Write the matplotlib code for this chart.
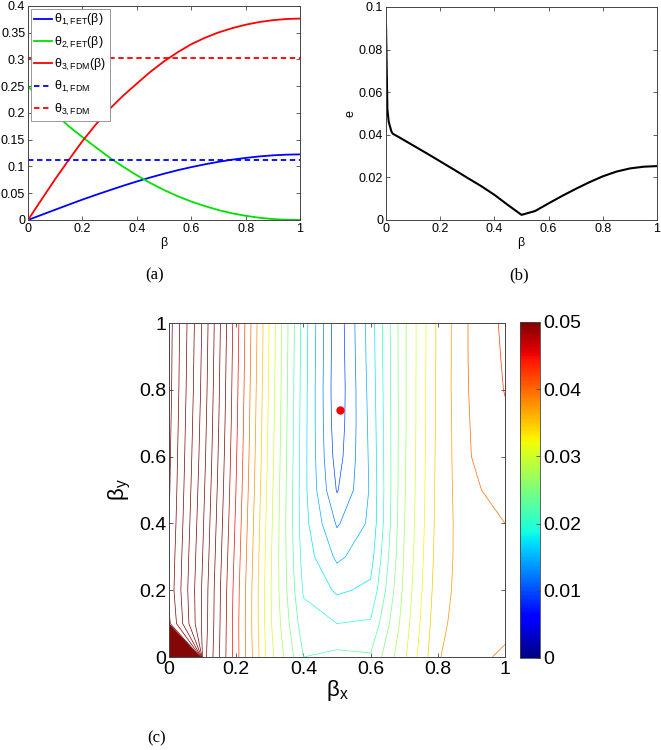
import numpy as np
import matplotlib
matplotlib.use("Agg")
import matplotlib.pyplot as plt

plt.rcParams["font.family"] = ["Liberation Sans", "DejaVu Sans"]
plt.rcParams["mathtext.fontset"] = "custom"
plt.rcParams["mathtext.rm"] = "Liberation Sans"
plt.rcParams["mathtext.it"] = "Liberation Sans"
plt.rcParams["mathtext.default"] = "regular"

# (a) angles vs beta
beta_a = [0, .05, .1, .15, .2, .25, .3, .35, .4, .45, .5, .55, .6, .65, .7,
          .75, .8, .85, .9, .95, 1]
theta1_fet = [0, 0.0096, 0.0192, 0.0287, 0.0381, 0.0470, 0.0556, 0.0640,
              0.0720, 0.0795, 0.0865, 0.0930, 0.0988, 0.1040, 0.1087, 0.1127,
              0.1160, 0.1188, 0.1208, 0.1221, 0.1226]
theta2_fet = [0.25, 0.2235, 0.1985, 0.1750, 0.1550, 0.1355, 0.1165, 0.0995,
              0.0835, 0.0690, 0.0560, 0.0445, 0.0345, 0.0260, 0.0185, 0.0125,
              0.0078, 0.0042, 0.0017, 0.0004, 0.0]
theta3_fdm_b = [0, 0.0385, 0.0765, 0.1125, 0.1475, 0.1790, 0.2075, 0.2325,
                0.2550, 0.2770, 0.2965, 0.3135, 0.3285, 0.3405, 0.3505,
                0.3585, 0.3650, 0.3700, 0.3735, 0.3757, 0.3765]
theta1_fdm = 0.112
theta3_fdm = 0.302

# (b) error vs beta
beta_b = [0, 0.005, 0.01, 0.02, 0.025, 0.05, 0.1, 0.15, 0.2, 0.25, 0.3, 0.35,
          0.4, 0.45, 0.5, 0.55, 0.6, 0.65, 0.7, 0.75, 0.8, 0.85, 0.9, 0.95, 1]
err_b = [0.091, 0.052, 0.046, 0.0415, 0.0405, 0.0387, 0.0350, 0.0313, 0.0275,
         0.0237, 0.0198, 0.0160, 0.0118, 0.0070, 0.0024, 0.0042, 0.0078,
         0.0113, 0.0146, 0.0177, 0.0205, 0.0227, 0.0242, 0.0250, 0.0253]

# (c) error over (beta_x, beta_y), rows = beta_y
beta_grid = [0, .1, .2, .3, .4, .5, .6, .7, .8, .9, 1]
err_c = [
    [0.2500, 0.0565, 0.0435, 0.0310, 0.0225, 0.0232, 0.0228, 0.0295, 0.0373, 0.0395, 0.0403],
    [0.0705, 0.0570, 0.0435, 0.0305, 0.0210, 0.0200, 0.0203, 0.0287, 0.0368, 0.0392, 0.0395],
    [0.0693, 0.0571, 0.0437, 0.0304, 0.0197, 0.0171, 0.0180, 0.0281, 0.0364, 0.0391, 0.0393],
    [0.0696, 0.0575, 0.0441, 0.0306, 0.0190, 0.0145, 0.0165, 0.0277, 0.0361, 0.0392, 0.0395],
    [0.0700, 0.0579, 0.0445, 0.0309, 0.0185, 0.0122, 0.0155, 0.0274, 0.0359, 0.0394, 0.0400],
    [0.0703, 0.0583, 0.0449, 0.0312, 0.0184, 0.0098, 0.0153, 0.0272, 0.0358, 0.0397, 0.0407],
    [0.0705, 0.0587, 0.0452, 0.0315, 0.0185, 0.0088, 0.0155, 0.0271, 0.0357, 0.0400, 0.0414],
    [0.0707, 0.0590, 0.0455, 0.0317, 0.0186, 0.0083, 0.0157, 0.0270, 0.0356, 0.0402, 0.0421],
    [0.0709, 0.0593, 0.0457, 0.0319, 0.0187, 0.0081, 0.0159, 0.0270, 0.0356, 0.0404, 0.0426],
    [0.0710, 0.0595, 0.0459, 0.0321, 0.0188, 0.0082, 0.0161, 0.0270, 0.0355, 0.0405, 0.0428],
    [0.0711, 0.0597, 0.0461, 0.0322, 0.0189, 0.0083, 0.0162, 0.0270, 0.0355, 0.0405, 0.0430],
]
best = (0.51, 0.74)

AX = "#444444"

fig = plt.figure(figsize=(6.61, 7.5), dpi=100)


def matlab_axes(ax, size):
    for s in ax.spines.values():
        s.set_color(AX)
        s.set_linewidth(0.7)
    ax.tick_params(direction="in", top=True, right=True, length=3,
                   width=0.6, color=AX, labelsize=size, pad=2)


# ---- (a)
ax = fig.add_axes([0.0424, 0.7067, 0.4115, 0.2853])
ax.plot(beta_a, theta1_fet, color="#0000ff", lw=1.3, label=r"$\theta_{1,FET}(\beta)$")
ax.plot(beta_a, theta2_fet, color="#00e000", lw=1.3, label=r"$\theta_{2,FET}(\beta)$")
ax.plot(beta_a, theta3_fdm_b, color="#ff0000", lw=1.3, label=r"$\theta_{3,FDM}(\beta)$")
ax.axhline(theta1_fdm, color="#0000ff", lw=1.3, ls=(0, (3, 2)), label=r"$\theta_{1,FDM}$")
ax.axhline(theta3_fdm, color="#ff0000", lw=1.3, ls=(0, (3, 2)), label=r"$\theta_{3,FDM}$")
ax.set_xlim(0, 1)
ax.set_ylim(0, 0.4)
ax.set_xticks(np.arange(0, 1.01, 0.2))
ax.set_xticklabels(["0", "0.2", "0.4", "0.6", "0.8", "1"])
ax.set_yticks(np.arange(0, 0.401, 0.05))
ax.set_yticklabels(["0", "0.05", "0.1", "0.15", "0.2", "0.25", "0.3", "0.35", "0.4"])
matlab_axes(ax, 9)
ax.set_xlabel(r"$\beta$", fontsize=9, labelpad=0)
leg = ax.legend(loc="upper left", fontsize=9, handlelength=1.4,
                handletextpad=0.2, labelspacing=0.5, borderpad=0.3,
                borderaxespad=0.2, fancybox=False, framealpha=1)
leg.get_frame().set_edgecolor("#888888")
leg.get_frame().set_linewidth(0.6)
fig.text(0.234, 0.633, "(a)", fontsize=12, family="Liberation Serif",
         ha="center", va="center")

# ---- (b)
ax = fig.add_axes([0.584, 0.7067, 0.41, 0.284])
ax.plot(beta_b, err_b, color="k", lw=1.5)
ax.set_xlim(0, 1)
ax.set_ylim(0, 0.1)
ax.set_xticks(np.arange(0, 1.01, 0.2))
ax.set_xticklabels(["0", "0.2", "0.4", "0.6", "0.8", "1"])
ax.set_yticks(np.arange(0, 0.101, 0.02))
ax.set_yticklabels(["0", "0.02", "0.04", "0.06", "0.08", "0.1"])
matlab_axes(ax, 9)
ax.set_xlabel(r"$\beta$", fontsize=9, labelpad=0)
ax.set_ylabel("e", fontsize=9, labelpad=2)
fig.text(0.786, 0.633, "(b)", fontsize=12, family="Liberation Serif",
         ha="center", va="center")

# ---- (c)
ax = fig.add_axes([0.2557, 0.124, 0.5083, 0.4453])
levels = np.arange(0.01, 0.26, 0.0025)
norm = matplotlib.colors.Normalize(vmin=0, vmax=0.05)
ax.contour(beta_grid, beta_grid, np.array(err_c), levels=levels,
           cmap="jet", norm=norm, linewidths=0.5)
ax.plot(*best, "o", color="#ff0000", ms=6, mec="none")
ax.set_xlim(0, 1)
ax.set_ylim(0, 1)
ax.set_xticks(np.arange(0, 1.01, 0.2))
ax.set_xticklabels(["0", "0.2", "0.4", "0.6", "0.8", "1"])
ax.set_yticks(np.arange(0, 1.01, 0.2))
ax.set_yticklabels(["0", "0.2", "0.4", "0.6", "0.8", "1"])
matlab_axes(ax, 14)
ax.tick_params(axis="x", pad=3)
ax.set_xlabel(r"$\beta_x$", fontsize=16, labelpad=0)
ax.set_ylabel(r"$\beta_y$", fontsize=16, labelpad=4)

cax = fig.add_axes([0.7867, 0.1227, 0.0303, 0.448])
sm = matplotlib.cm.ScalarMappable(norm=norm, cmap="jet")
cb = fig.colorbar(sm, cax=cax, ticks=[0, 0.01, 0.02, 0.03, 0.04, 0.05])
cb.ax.set_yticklabels(["0", "0.01", "0.02", "0.03", "0.04", "0.05"])
cb.outline.set_edgecolor(AX)
cb.outline.set_linewidth(0.6)
cb.ax.tick_params(direction="in", length=3, width=0.6, color=AX,
                  labelsize=14, pad=2)
fig.text(0.2375, 0.016, "(c)", fontsize=12, family="Liberation Serif",
         ha="center", va="center")

fig.savefig("out.png", dpi=100, facecolor="white")
